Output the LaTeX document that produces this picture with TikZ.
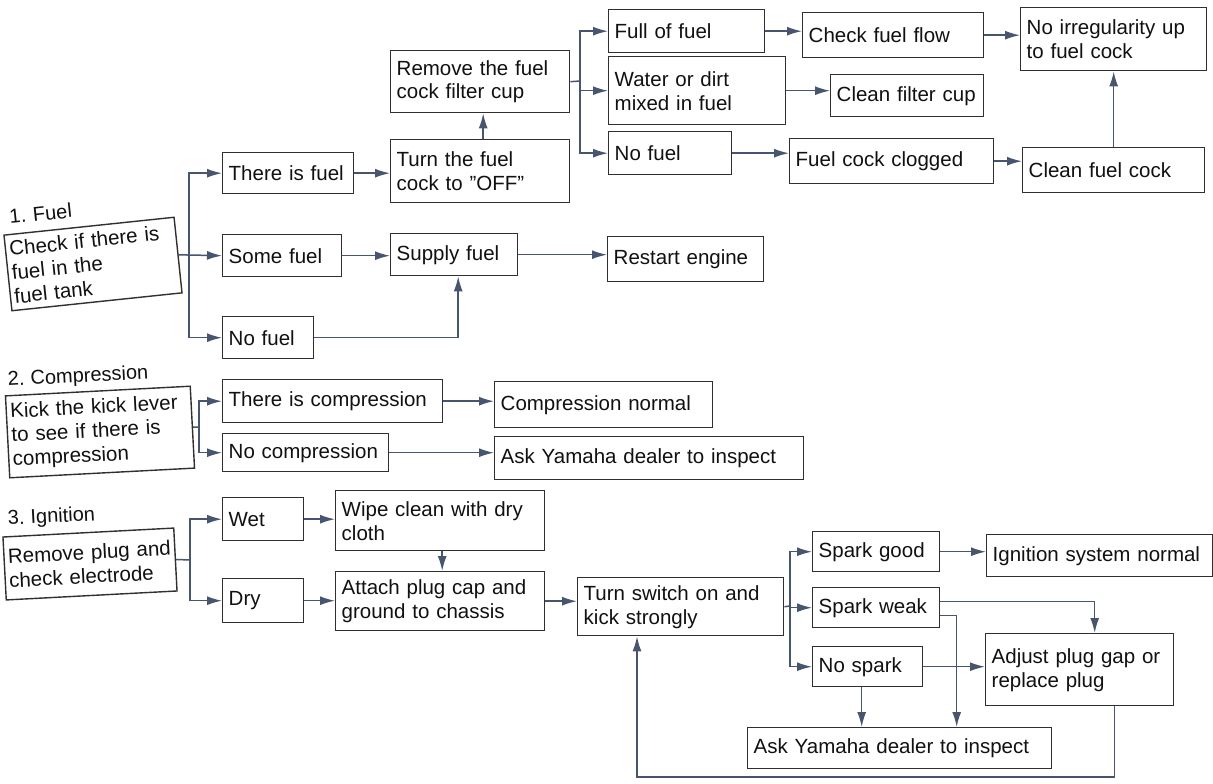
\documentclass[tikz,border=0pt]{standalone}
\usepackage{fontspec}
\setmainfont{Liberation Sans}
\usetikzlibrary{arrows.meta}
\definecolor{lnc}{HTML}{47556F}
\definecolor{bdc}{HTML}{303030}
\definecolor{txc}{HTML}{111111}
\newcommand\bx[7]{\node[box,anchor=north west,minimum width=#4pt,minimum height=#5pt,text width=#6pt] (#1) at (#2,#3) {#7};}
\begin{document}
\begin{tikzpicture}[x=1pt,y=-1pt,
  box/.style={draw=bdc,line width=1.4pt,fill=white,inner xsep=6pt,inner ysep=2pt,align=left,text=txc,font=\fontsize{20.5}{24}\selectfont},
  rbox/.style={box,inner xsep=4pt},
  lab/.style={text=txc,inner sep=0pt,font=\fontsize{20}{24}\selectfont},
  ln/.style={draw=lnc,line width=1.5pt},
  arr/.style={ln,-{Latex[length=15pt,width=9pt]}}]
\useasboundingbox[fill=white] (0,0) rectangle (1213,784);

% ---------- 1. Fuel ----------
\node[lab,rotate=6,anchor=base west] (l1) at (10,224) {1.\hspace{7pt}Fuel};
\node[rbox,rotate=6,minimum width=171pt,minimum height=76pt,text width=163pt] (check) at (93,264) {Check if there is\\fuel in the\\fuel tank};
\bx{tfuel}{222}{152}{131}{41}{119}{There is fuel}
\bx{sfuel}{222}{234}{119}{42}{107}{Some fuel}
\bx{nfuel}{222}{316}{91}{42}{79}{No fuel}
\bx{turn}{390}{139}{179}{63}{167}{Turn the fuel\\cock to ''OFF''}
\bx{remove}{390}{50}{179}{62}{167}{Remove the fuel\\cock filter cup}
\bx{supply}{390}{233}{127}{42}{115}{Supply fuel}
\bx{restart}{607}{236}{156}{45}{144}{Restart engine}
\bx{full}{608}{9}{156}{43}{144}{Full of fuel}
\bx{water}{608}{56}{177}{68}{165}{Water or dirt\\mixed in fuel}
\bx{nofuel2}{608}{131}{123}{43}{111}{No fuel}
\bx{cff}{802}{12}{181}{45}{169}{Check fuel flow}
\bx{cfc}{830}{74}{153}{42}{141}{Clean filter cup}
\bx{clog}{789}{138}{204}{45}{192}{Fuel cock clogged}
\bx{noirr}{1020}{7}{186}{63}{174}{No irregularity up\\to fuel cock}
\bx{ccock}{1022}{147}{182}{45}{170}{Clean fuel cock}

\coordinate (j0) at (189,255);
\coordinate (j1) at (580,81);
\draw[ln] (check.east) -- (j0);
\draw[arr] (j0) |- (tfuel.west);
\draw[arr] (j0) -- (sfuel.west);
\draw[arr] (j0) |- (nfuel.west);
\draw[arr] (tfuel.east) -- (tfuel.east -| turn.west);
\draw[arr] (sfuel.east) -- (sfuel.east -| supply.west);
\draw[arr] (nfuel.east) -| ([xshift=4pt]supply.south);
\draw[arr] (supply.east) -- (supply.east -| restart.west);
\draw[arr] ([xshift=3pt]turn.north) -- ([xshift=3pt]remove.south);
\draw[ln] (remove.east) -- (j1);
\draw[arr] (j1) |- (full.west);
\draw[arr] (j1) |- (water.west);
\draw[arr] (j1) |- (nofuel2.west);
\draw[arr] (full.east) -- (full.east -| cff.west);
\draw[arr] (cff.east) -- (cff.east -| noirr.west);
\draw[arr] (water.east) -- (water.east -| cfc.west);
\draw[arr] (nofuel2.east) -- (nofuel2.east -| clog.west);
\draw[arr] (clog.east) -- (clog.east -| ccock.west);
\draw[arr] (ccock.north) -- (ccock.north |- noirr.south);

% ---------- 2. Compression ----------
\node[lab,rotate=3,anchor=base west] (l2) at (8,386) {2.\hspace{6pt}Compression};
\node[rbox,rotate=3,minimum width=185pt,minimum height=82pt,text width=177pt] (kick) at (100,432) {Kick the kick lever\\to see if there is\\compression};
\bx{thc}{222}{379}{220}{43}{208}{There is compression}
\bx{noc}{222}{433}{166}{38}{154}{No compression}
\bx{cnorm}{494}{381}{218}{46}{206}{Compression normal}
\bx{askA}{494}{436}{309}{43}{297}{Ask Yamaha dealer to inspect}

\coordinate (j2) at (199,427);
\draw[ln] (kick.east) -- (j2);
\draw[arr] (j2) |- (thc.west);
\draw[arr] (j2) |- (noc.west);
\draw[arr] (thc.east) -- (thc.east -| cnorm.west);
\draw[arr] (noc.east) -- (noc.east -| askA.west);

% ---------- 3. Ignition ----------
\node[lab,rotate=3,anchor=base west] (l3) at (8,525) {3.\hspace{6pt}Ignition};
\node[rbox,rotate=3,minimum width=171pt,minimum height=63pt,text width=163pt] (plug) at (90,564) {Remove plug and\\check electrode};
\bx{wet}{222}{497}{81}{43}{69}{Wet}
\bx{dry}{222}{578}{81}{44}{69}{Dry}
\bx{wipe}{335}{490}{209}{60}{197}{Wipe clean with dry\\cloth}
\bx{attach}{335}{571}{209}{59}{197}{Attach plug cap and\\ground to chassis}
\bx{turnsw}{577}{577}{206}{58}{194}{Turn switch on and\\kick strongly}
\bx{sgood}{812}{531}{127}{40}{115}{Spark good}
\bx{sweak}{812}{587}{127}{40}{115}{Spark weak}
\bx{nospark}{812}{646}{110}{40}{98}{No spark}
\bx{ign}{986}{534}{226}{42}{214}{Ignition system normal}
\bx{adjust}{985}{633}{188}{72}{176}{Adjust plug gap or\\replace plug}
\bx{askB}{747}{727}{304}{41}{292}{Ask Yamaha dealer to inspect}

\coordinate (j3) at (190,560);
\coordinate (j4) at (790,606);
\coordinate (c1) at (637,777);
\draw[ln] (plug.east) -- (j3);
\draw[arr] (j3) |- (wet.west);
\draw[arr] (j3) |- (dry.west);
\draw[arr] (wet.east) -- (wet.east -| wipe.west);
\draw[arr] (dry.east) -- (dry.east -| attach.west);
\draw[arr] ([xshift=2pt]wipe.south) -- ([xshift=2pt]attach.north);
\draw[arr] (attach.east) -- (attach.east -| turnsw.west);
\draw[ln] (turnsw.east) -- (j4);
\draw[arr] (j4) |- (sgood.west);
\draw[arr] (j4) |- (sweak.west);
\draw[arr] (j4) |- (nospark.west);
\draw[arr] (sgood.east) -- (sgood.east -| ign.west);
\draw[arr] ([yshift=6pt]sweak.east) -| ([xshift=15pt]adjust.north);
\draw[arr] ([yshift=-8pt]sweak.east) -| ([xshift=57pt]askB.north);
\draw[arr] (nospark.east) -- (nospark.east -| adjust.west);
\draw[arr] ([xshift=-6pt]nospark.south) -- ([xshift=-6pt]nospark.south |- askB.north);
\draw[arr] ([xshift=35pt]adjust.south) |- (c1) -- (c1 |- turnsw.south);
\end{tikzpicture}
\end{document}
